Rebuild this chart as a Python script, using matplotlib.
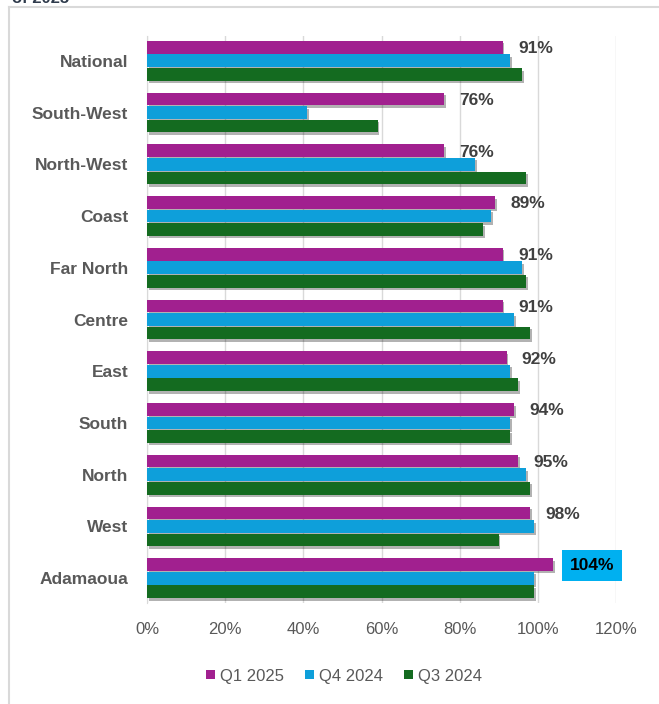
import matplotlib
matplotlib.use("Agg")
import matplotlib.pyplot as plt
import matplotlib.patheffects as pe
from matplotlib.lines import Line2D
import numpy as np

plt.rcParams['font.family'] = ['Liberation Sans', 'DejaVu Sans']

categories = ["National", "South-West", "North-West", "Coast", "Far North", "Centre",
              "East", "South", "North", "West", "Adamaoua"]
q1_2025 = [91, 76, 76, 89, 91, 91, 92, 94, 95, 98, 104]
q4_2024 = [93, 41, 84, 88, 96, 94, 93, 93, 97, 99, 99]
q3_2024 = [96, 59, 97, 86, 97, 98, 95, 93, 98, 90, 99]
series_names = ["Q1 2025", "Q4 2024", "Q3 2024"]
x_ticks = [0, 20, 40, 60, 80, 100, 120]

colors = ["#A1208F", "#0E9FDA", "#146B20"]

fig = plt.figure(figsize=(6.59, 7.04), dpi=100)
fig.patch.set_facecolor("white")

# partially visible heading at the very top (cut off in the source image)
fig.text(12/659, 1 - 3/704, "of 2025", ha="left", va="baseline", fontsize=12,
         fontweight="bold", color="#2F3B4C")

# outer light border
fig.add_artist(Line2D([9/659, 9/659], [0, 1 - 7/704], transform=fig.transFigure,
                      color="#D9D9D9", lw=1.5))
fig.add_artist(Line2D([9/659, 1], [1 - 7/704, 1 - 7/704], transform=fig.transFigure,
                      color="#D9D9D9", lw=1.5))

ax = fig.add_axes([147/659, 1 - 603/704, (616 - 147)/659, (603 - 36)/704])

y = np.arange(len(categories))
h = 0.245
off = 0.262
shadow = [pe.SimplePatchShadow(offset=(1.2, -1.8), shadow_rgbFace="#000000", alpha=0.3),
          pe.Normal()]
for vals, dy, c, name in zip([q1_2025, q4_2024, q3_2024], [-off, 0, off], colors, series_names):
    bars = ax.barh(y + dy, vals, height=h, color=c, label=name, zorder=3)
    for b in bars:
        b.set_path_effects(shadow)

for i, v in enumerate(q1_2025):
    if categories[i] == "Adamaoua":
        ax.annotate(f"{v}%", xy=(v, y[i] - off), xytext=(12, -0.5), textcoords="offset points",
                    va="center", ha="left", fontsize=12.5, fontweight="bold", color="black",
                    bbox=dict(boxstyle="square,pad=0.45", fc="#00B0F0", ec="none"), zorder=5)
    else:
        ax.annotate(f"{v}%", xy=(v, y[i] - off), xytext=(11, -1), textcoords="offset points",
                    va="center", ha="left", fontsize=12.5, fontweight="bold", color="#404040",
                    zorder=5)

ax.set_xlim(0, 120)
ax.set_ylim(len(categories) - 0.52, -0.48)
ax.set_xticks(x_ticks)
ax.set_xticklabels([f"{t}%" for t in x_ticks], fontsize=12, color="#595959")
ax.set_yticks(y)
ax.set_yticklabels(categories, fontsize=12.5, fontweight="bold", color="#595959")
ax.tick_params(axis="both", length=0)
ax.tick_params(axis="x", pad=14)
ax.tick_params(axis="y", pad=13.5)
ax.grid(axis="x", color="#D9D9D9", lw=1, zorder=0)
for s in ["top", "right", "bottom"]:
    ax.spines[s].set_visible(False)
ax.spines["left"].set_color("#D9D9D9")

leg = fig.legend(loc="center", bbox_to_anchor=(0.522, 1 - 676/704), ncol=3, frameon=False,
                 fontsize=12, handlelength=0.5, handleheight=0.5, handletextpad=0.3,
                 columnspacing=1.3)
for t in leg.get_texts():
    t.set_color("#595959")
for hdl in leg.legend_handles:
    hdl.set_path_effects([])

fig.savefig("out.png", dpi=100)
